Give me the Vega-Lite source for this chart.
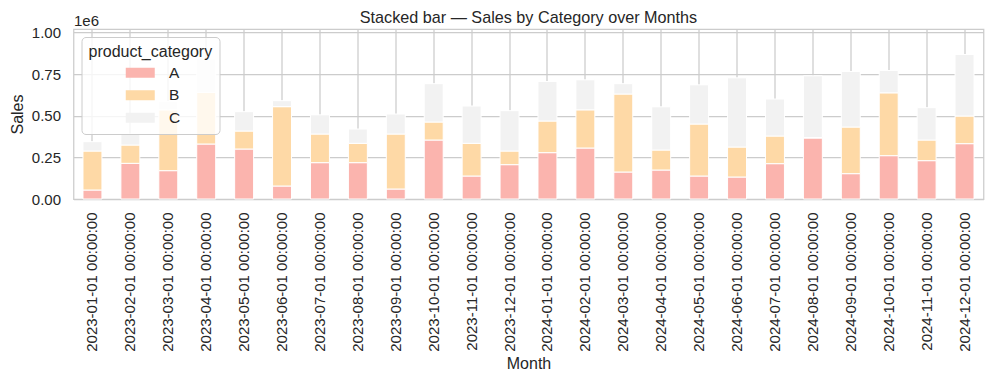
{
  "$schema": "https://vega.github.io/schema/vega-lite/v6.json",
  "width": 910,
  "height": 170,
  "autosize": {"type": "none"},
  "padding": {"left": 73.5, "top": 29, "right": 9, "bottom": 185},
  "background": "white",
  "title": {"text": "Stacked bar — Sales by Category over Months", "fontSize": 16.2, "font": "Liberation Sans", "fontWeight": "normal", "color": "#262626", "anchor": "middle", "frame": "group", "offset": -13},
  "config": {
    "view": {"stroke": "#cccccc", "strokeWidth": 1.25},
    "axis": {"labelFont": "Liberation Sans", "titleFont": "Liberation Sans", "labelFontSize": 15, "titleFontSize": 16, "labelColor": "#262626", "titleColor": "#262626", "titleFontWeight": "normal", "gridColor": "#cccccc", "gridWidth": 1.25, "gridOpacity": 1, "domain": false, "ticks": false}
  },
  "data": {"values": [
    {"month": "2023-01-01 00:00:00", "product_category": "A", "sales": 54000},
    {"month": "2023-01-01 00:00:00", "product_category": "B", "sales": 234000},
    {"month": "2023-01-01 00:00:00", "product_category": "C", "sales": 56000},
    {"month": "2023-02-01 00:00:00", "product_category": "A", "sales": 214000},
    {"month": "2023-02-01 00:00:00", "product_category": "B", "sales": 110000},
    {"month": "2023-02-01 00:00:00", "product_category": "C", "sales": 66000},
    {"month": "2023-03-01 00:00:00", "product_category": "A", "sales": 170000},
    {"month": "2023-03-01 00:00:00", "product_category": "B", "sales": 365000},
    {"month": "2023-03-01 00:00:00", "product_category": "C", "sales": 50000},
    {"month": "2023-04-01 00:00:00", "product_category": "A", "sales": 330000},
    {"month": "2023-04-01 00:00:00", "product_category": "B", "sales": 310000},
    {"month": "2023-04-01 00:00:00", "product_category": "C", "sales": 200000},
    {"month": "2023-05-01 00:00:00", "product_category": "A", "sales": 300000},
    {"month": "2023-05-01 00:00:00", "product_category": "B", "sales": 108000},
    {"month": "2023-05-01 00:00:00", "product_category": "C", "sales": 116000},
    {"month": "2023-06-01 00:00:00", "product_category": "A", "sales": 78000},
    {"month": "2023-06-01 00:00:00", "product_category": "B", "sales": 476000},
    {"month": "2023-06-01 00:00:00", "product_category": "C", "sales": 36000},
    {"month": "2023-07-01 00:00:00", "product_category": "A", "sales": 218000},
    {"month": "2023-07-01 00:00:00", "product_category": "B", "sales": 172000},
    {"month": "2023-07-01 00:00:00", "product_category": "C", "sales": 115000},
    {"month": "2023-08-01 00:00:00", "product_category": "A", "sales": 218000},
    {"month": "2023-08-01 00:00:00", "product_category": "B", "sales": 116000},
    {"month": "2023-08-01 00:00:00", "product_category": "C", "sales": 86000},
    {"month": "2023-09-01 00:00:00", "product_category": "A", "sales": 60000},
    {"month": "2023-09-01 00:00:00", "product_category": "B", "sales": 330000},
    {"month": "2023-09-01 00:00:00", "product_category": "C", "sales": 120000},
    {"month": "2023-10-01 00:00:00", "product_category": "A", "sales": 354000},
    {"month": "2023-10-01 00:00:00", "product_category": "B", "sales": 108000},
    {"month": "2023-10-01 00:00:00", "product_category": "C", "sales": 230000},
    {"month": "2023-11-01 00:00:00", "product_category": "A", "sales": 138000},
    {"month": "2023-11-01 00:00:00", "product_category": "B", "sales": 196000},
    {"month": "2023-11-01 00:00:00", "product_category": "C", "sales": 224000},
    {"month": "2023-12-01 00:00:00", "product_category": "A", "sales": 206000},
    {"month": "2023-12-01 00:00:00", "product_category": "B", "sales": 82000},
    {"month": "2023-12-01 00:00:00", "product_category": "C", "sales": 242000},
    {"month": "2024-01-01 00:00:00", "product_category": "A", "sales": 278000},
    {"month": "2024-01-01 00:00:00", "product_category": "B", "sales": 190000},
    {"month": "2024-01-01 00:00:00", "product_category": "C", "sales": 237000},
    {"month": "2024-02-01 00:00:00", "product_category": "A", "sales": 306000},
    {"month": "2024-02-01 00:00:00", "product_category": "B", "sales": 229000},
    {"month": "2024-02-01 00:00:00", "product_category": "C", "sales": 180000},
    {"month": "2024-03-01 00:00:00", "product_category": "A", "sales": 162000},
    {"month": "2024-03-01 00:00:00", "product_category": "B", "sales": 468000},
    {"month": "2024-03-01 00:00:00", "product_category": "C", "sales": 62000},
    {"month": "2024-04-01 00:00:00", "product_category": "A", "sales": 174000},
    {"month": "2024-04-01 00:00:00", "product_category": "B", "sales": 120000},
    {"month": "2024-04-01 00:00:00", "product_category": "C", "sales": 259000},
    {"month": "2024-05-01 00:00:00", "product_category": "A", "sales": 138000},
    {"month": "2024-05-01 00:00:00", "product_category": "B", "sales": 312000},
    {"month": "2024-05-01 00:00:00", "product_category": "C", "sales": 235000},
    {"month": "2024-06-01 00:00:00", "product_category": "A", "sales": 132000},
    {"month": "2024-06-01 00:00:00", "product_category": "B", "sales": 180000},
    {"month": "2024-06-01 00:00:00", "product_category": "C", "sales": 415000},
    {"month": "2024-07-01 00:00:00", "product_category": "A", "sales": 212000},
    {"month": "2024-07-01 00:00:00", "product_category": "B", "sales": 166000},
    {"month": "2024-07-01 00:00:00", "product_category": "C", "sales": 222000},
    {"month": "2024-08-01 00:00:00", "product_category": "A", "sales": 366000},
    {"month": "2024-08-01 00:00:00", "product_category": "B", "sales": 3000},
    {"month": "2024-08-01 00:00:00", "product_category": "C", "sales": 370000},
    {"month": "2024-09-01 00:00:00", "product_category": "A", "sales": 152000},
    {"month": "2024-09-01 00:00:00", "product_category": "B", "sales": 280000},
    {"month": "2024-09-01 00:00:00", "product_category": "C", "sales": 333000},
    {"month": "2024-10-01 00:00:00", "product_category": "A", "sales": 260000},
    {"month": "2024-10-01 00:00:00", "product_category": "B", "sales": 377000},
    {"month": "2024-10-01 00:00:00", "product_category": "C", "sales": 134000},
    {"month": "2024-11-01 00:00:00", "product_category": "A", "sales": 230000},
    {"month": "2024-11-01 00:00:00", "product_category": "B", "sales": 124000},
    {"month": "2024-11-01 00:00:00", "product_category": "C", "sales": 194000},
    {"month": "2024-12-01 00:00:00", "product_category": "A", "sales": 332000},
    {"month": "2024-12-01 00:00:00", "product_category": "B", "sales": 166000},
    {"month": "2024-12-01 00:00:00", "product_category": "C", "sales": 369000}
  ]},
  "layer": [
    {
      "mark": {"type": "bar", "stroke": "white", "strokeWidth": 1},
      "encoding": {
        "x": {"field": "month", "type": "ordinal", "sort": null,
              "scale": {"paddingInner": 0.5, "paddingOuter": 0.25},
              "axis": {"title": "Month", "labelAngle": -90, "labelPadding": 13, "bandPosition": 0.5, "grid": true, "titlePadding": 4}},
        "y": {"field": "sales", "type": "quantitative", "stack": "zero",
              "scale": {"domain": [0, 1020000], "nice": false, "zero": true},
              "axis": {"title": "Sales", "values": [0, 250000, 500000, 750000, 1000000], "labelExpr": "format(datum.value / 1000000, '.2f')", "labelPadding": 13, "titlePadding": 6, "grid": true}},
        "color": {"field": "product_category", "type": "nominal",
                  "scale": {"domain": ["A", "B", "C"], "range": ["#fbb4ae", "#fed9a6", "#f2f2f2"]},
                  "legend": {"orient": "top-left", "offset": 8, "title": "product_category",
                             "titleFontSize": 16, "titleFont": "Liberation Sans", "titleFontWeight": "normal", "titleColor": "#262626",
                             "labelFontSize": 15.5, "labelFont": "Liberation Sans", "labelColor": "#262626",
                             "fillColor": "rgba(255,255,255,0.8)", "strokeColor": "#cccccc", "cornerRadius": 4, "padding": 7,
                             "symbolType": "M-2.9,-1L2.9,-1L2.9,1L-2.9,1Z", "symbolSize": 100, "symbolStrokeWidth": 0, "symbolOpacity": 1,
                             "symbolOffset": 44, "labelOffset": 21, "rowPadding": 5.5, "titlePadding": 5}},
        "order": {"field": "product_category", "sort": "ascending"}
      }
    },
    {
      "mark": {"type": "tick", "opacity": 0},
      "encoding": {
        "x": {"field": "month", "type": "ordinal", "sort": null,
              "axis": {"orient": "top", "labels": false, "grid": false, "title": "1e6", "titleAnchor": "start", "titleAngle": 0, "titleAlign": "left", "titleBaseline": "alphabetic", "titlePadding": 4, "titleFontSize": 15, "titleX": 0}}
      }
    }
  ],
  "resolve": {"axis": {"x": "independent"}}
}
